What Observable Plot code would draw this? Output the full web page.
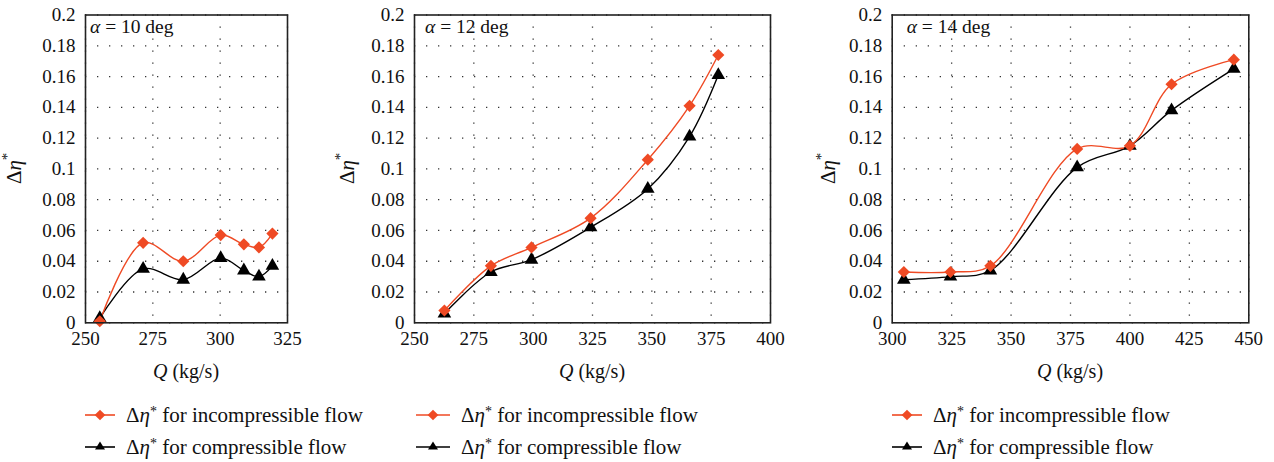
<!DOCTYPE html>
<html>
<head>
<meta charset="utf-8">
<script src="https://cdn.jsdelivr.net/npm/d3@7"></script>
<script src="https://cdn.jsdelivr.net/npm/@observablehq/plot@0.6"></script>
<style>
  html, body { margin: 0; padding: 0; background: #fff; }
  #root { position: relative; width: 1274px; height: 462px; overflow: hidden;
    font-family: "Liberation Serif", "Times New Roman", serif; color: #111; }
  #root svg { font-family: "Liberation Serif", "Times New Roman", serif !important; }
  #root svg g[aria-label$="tick label"] text { font-size: 19px !important; fill: #111; }
  .panel { position: absolute; top: 0; }
  .legend { position: absolute; font-size: 21px; }
  .legend .row { position: absolute; white-space: nowrap; display: flex; align-items: center; height: 30px; }
  .legend svg { display: block; }
  .legend .lbl { margin-left: 11px; }
  i { font-style: italic; }
</style>
</head>
<body>
<div id="root"></div>
<script>
// ---- data ----
const q10 = [255.3, 271.4, 286.3, 300.2, 308.8, 314.4, 319.4];
const inc10 = [0.001, 0.052, 0.040, 0.057, 0.051, 0.049, 0.058];
const com10 = [0.003, 0.035, 0.028, 0.042, 0.034, 0.030, 0.037];

const q12 = [262.6, 282.2, 299.3, 324.2, 348.3, 365.9, 378.0];
const inc12 = [0.008, 0.037, 0.049, 0.068, 0.106, 0.141, 0.174];
const com12 = [0.006, 0.033, 0.041, 0.062, 0.087, 0.121, 0.161];

const q14 = [304.9, 324.5, 341.3, 377.8, 400.0, 417.5, 443.7];
const inc14 = [0.033, 0.033, 0.037, 0.113, 0.115, 0.155, 0.171];
const com14 = [0.028, 0.030, 0.034, 0.101, 0.115, 0.138, 0.165];

const angles = [10, 12, 14];
const xDomains = [[250, 325], [250, 400], [300, 450]];
const xTicks = [[250, 275, 300, 325], [250, 275, 300, 325, 350, 375, 400], [300, 325, 350, 375, 400, 425, 450]];
const yTicks = [0, 0.02, 0.04, 0.06, 0.08, 0.1, 0.12, 0.14, 0.16, 0.18, 0.2];
const seriesNames = ["for incompressible flow", "for compressible flow"];

const RED = "#ef4a24";
const BLACK = "#000";
const FONT = "Liberation Serif, Times New Roman, serif";

// ---- layout ----
const panels = [
  {left: 0,   width: 312, ml: 85,   mr: 25,   q: q10, inc: inc10, com: com10, alphaDx: 5,  yLabX: 14,  legX: 85,  legLine: 30},
  {left: 330, width: 460, ml: 84,   mr: 20,   q: q12, inc: inc12, com: com12, alphaDx: 11, yLabX: 17,  legX: 416, legLine: 34},
  {left: 800, width: 474, ml: 91.7, mr: 25.7, q: q14, inc: inc14, com: com14, alphaDx: 15, yLabX: 28,  legX: 892, legLine: 30}
];
const H = 390, MT = 14.5, MB = 67.7;
const root = document.getElementById("root");

panels.forEach((p, i) => {
  const inc = p.q.map((x, j) => ({x, y: p.inc[j]}));
  const com = p.q.map((x, j) => ({x, y: p.com[j]}));
  const chart = Plot.plot({
    width: p.width, height: H,
    marginLeft: p.ml, marginRight: p.mr, marginTop: MT, marginBottom: MB,
    style: {fontFamily: FONT, fontSize: "19px", color: "#111", background: "transparent"},
    x: {domain: xDomains[i], ticks: xTicks[i], label: null},
    y: {domain: [0, 0.2], ticks: yTicks, label: null},
    marks: [
      Plot.gridX(xTicks[i], {stroke: "#000", strokeOpacity: 0.8, strokeWidth: 1.3, strokeDasharray: "1.3,10.7"}),
      Plot.gridY(yTicks, {stroke: "#000", strokeOpacity: 0.8, strokeWidth: 1.3, strokeDasharray: "1.3,10.7"}),
      Plot.axisX(xTicks[i], {tickSize: 0, tickPadding: 9, fontSize: 19, label: null}),
      Plot.axisY(yTicks, {tickSize: 0, tickPadding: 10, fontSize: 19, label: null,
        tickFormat: d => d === 0 ? "0" : String(+d.toFixed(2))}),
      Plot.line(com, {x: "x", y: "y", stroke: BLACK, strokeWidth: 1.4, curve: "catmull-rom"}),
      Plot.line(inc, {x: "x", y: "y", stroke: RED, strokeWidth: 1.4, curve: "catmull-rom"}),
      Plot.dot(com, {x: "x", y: "y", symbol: "triangle2", r: 6.5, fill: BLACK, stroke: "none"}),
      Plot.dot(inc, {x: "x", y: "y", symbol: "diamond2", r: 5.5, fill: RED, stroke: "none"}),
      Plot.frame({stroke: "#222", strokeWidth: 1.6})
    ]
  });
  const div = document.createElement("div");
  div.className = "panel";
  div.style.left = p.left + "px";
  div.appendChild(chart);
  root.appendChild(div);

  const svg = d3.select(chart);
  const fx0 = p.ml, fx1 = p.width - p.mr;
  const fy0 = MT, fy1 = H - MB;

  // annotation "α = N deg"
  const t = svg.append("text").attr("x", fx0 + p.alphaDx).attr("y", fy0 + 18)
    .attr("text-anchor", "start").attr("font-size", 19.5).attr("fill", "#111");
  t.append("tspan").attr("font-style", "italic").text("α");
  t.append("tspan").text(" = " + angles[i] + " deg");

  // x label
  const xl = svg.append("text").attr("x", (fx0 + fx1) / 2).attr("y", fy1 + 56)
    .attr("text-anchor", "middle").attr("font-size", 20).attr("fill", "#111");
  xl.append("tspan").attr("font-style", "italic").text("Q");
  xl.append("tspan").text(" (kg/s)");

  // y label
  const yl = svg.append("text")
    .attr("transform", `translate(${p.yLabX + 7},${(fy0 + fy1) / 2}) rotate(-90)`)
    .attr("text-anchor", "middle").attr("font-size", 21).attr("fill", "#111");
  yl.append("tspan").text("Δ");
  yl.append("tspan").attr("font-style", "italic").text("η");
  yl.append("tspan").attr("dy", -9).attr("font-size", 15).text("*");

  // legend
  const leg = document.createElement("div");
  leg.className = "legend";
  leg.style.left = p.legX + "px";
  leg.style.top = "400px";
  seriesNames.forEach((name, k) => {
    const row = document.createElement("div");
    row.className = "row";
    row.style.top = (k * 32) + "px";
    const w = p.legLine;
    const color = k === 0 ? RED : BLACK;
    const sym = k === 0
      ? `<rect x="${w/2 - 3.8}" y="${15 - 3.8}" width="7.6" height="7.6" transform="rotate(45 ${w/2} 15)" fill="${color}"/>`
      : `<path d="M${w/2},9.5L${w/2 + 5},17.5L${w/2 - 5},17.5Z" fill="${color}"/>`;
    row.innerHTML = `<svg width="${w}" height="30"><line x1="0" x2="${w}" y1="15" y2="15" stroke="${color}" stroke-width="1.6"/>${sym}</svg>` +
      `<span class="lbl">Δ<i>η</i><sup style="font-size:14px;vertical-align:6px">*</sup> ${name}</span>`;
    leg.appendChild(row);
  });
  root.appendChild(leg);
});
</script>
</body>
</html>
